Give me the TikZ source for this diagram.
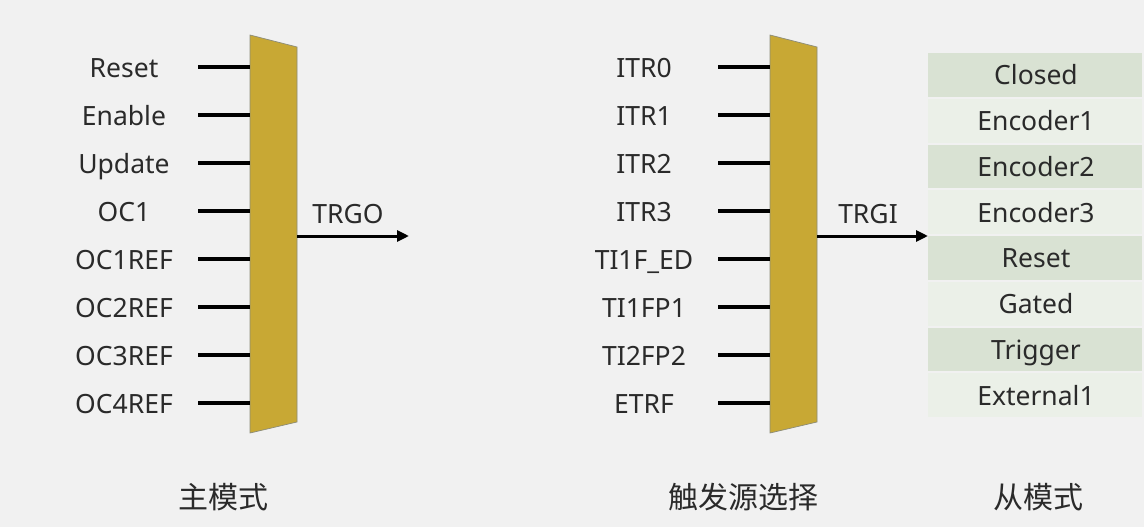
\documentclass[tikz,border=0pt]{standalone}
\usepackage{fontspec}
\setmainfont{Noto Sans}
\newfontfamily\cjk{Noto Sans CJK SC}
\usetikzlibrary{arrows.meta}
\definecolor{bgc}{HTML}{F1F1F1}
\definecolor{muxc}{HTML}{C8A834}
\definecolor{muxb}{HTML}{8C8C78}
\definecolor{txtc}{HTML}{2A2A2A}
\definecolor{rowdark}{HTML}{D9E2D3}
\definecolor{rowlight}{HTML}{EBF0E8}
\begin{document}
\begin{tikzpicture}[x=1pt,y=-1pt,
  lbl/.style={font=\fontsize{26.5}{30}\selectfont, text=txtc, inner sep=0pt, anchor=base},
  cjklbl/.style={font=\cjk\fontsize{30}{34}\selectfont, text=txtc, inner sep=0pt},
  pin/.style={line width=3.6pt, black},
  outarrow/.style={line width=3pt, black, -{Triangle[length=12pt,width=11pt]}},
  mux/.style={fill=muxc, draw=muxb, line width=0.7pt},
  cell/.style={minimum width=214pt, minimum height=43.75pt, inner sep=0pt},
  celltxt/.style={font=\fontsize{26.5}{30}\selectfont, text=txtc, inner sep=0pt, anchor=base},
]
\useasboundingbox[fill=bgc] (0,0) rectangle (1144,527);

% multiplexers
\draw[mux] (250,35) -- (297,47) -- (297,422) -- (250,433) -- cycle;
\draw[mux] (770,35) -- (817,47) -- (817,422) -- (770,433) -- cycle;

% left inputs
\foreach \t [count=\i from 0] in {Reset,Enable,Update,OC1,OC1REF,OC2REF,OC3REF,OC4REF}{
  \pgfmathsetmacro{\yy}{67+48*\i}
  \pgfmathsetmacro{\yb}{67+48*\i+10.5}
  \node[lbl] (a\i) at (124,\yb) {\t};
  \coordinate (as\i) at (198,\yy);
  \coordinate (ae\i) at (250,\yy);
  \draw[pin] (as\i) -- (ae\i);
}
% middle inputs
\foreach \t [count=\i from 0] in {ITR0,ITR1,ITR2,ITR3,TI1F\_ED,TI1FP1,TI2FP2,ETRF}{
  \pgfmathsetmacro{\yy}{67+48*\i}
  \pgfmathsetmacro{\yb}{67+48*\i+10.5}
  \node[lbl] (b\i) at (644,\yb) {\t};
  \coordinate (bs\i) at (718,\yy);
  \coordinate (be\i) at (770,\yy);
  \draw[pin] (bs\i) -- (be\i);
}

% outputs
\coordinate (mo1) at (297,236);
\coordinate (oe1) at (409,236);
\draw[outarrow] (mo1) -- (oe1);
\node[lbl] (trgo) at (348,223) {TRGO};

\coordinate (mo2) at (817,236);
\coordinate (oe2) at (928,236);
\draw[outarrow] (mo2) -- (oe2);
\node[lbl] (trgi) at (868,223) {TRGI};

% slave mode table
\foreach \t [count=\i from 0] in {Closed,Encoder1,Encoder2,Encoder3,Reset,Gated,Trigger,External1}{
  \pgfmathsetmacro{\yy}{52+45.75*\i+22.875}
  \pgfmathsetmacro{\yb}{52+45.75*\i+22.875+10}
  \pgfmathtruncatemacro{\odd}{mod(\i,2)}
  \ifnum\odd=0
    \node[cell, fill=rowdark] (s\i) at (1035,\yy) {};
  \else
    \node[cell, fill=rowlight] (s\i) at (1035,\yy) {};
  \fi
  \node[celltxt] (st\i) at (1036,\yb) {\t};
}

% bottom captions
\node[cjklbl] (c1) at (223,497) {主模式};
\node[cjklbl] (c2) at (743,497) {触发源选择};
\node[cjklbl] (c3) at (1038,497) {从模式};
\end{tikzpicture}
\end{document}
